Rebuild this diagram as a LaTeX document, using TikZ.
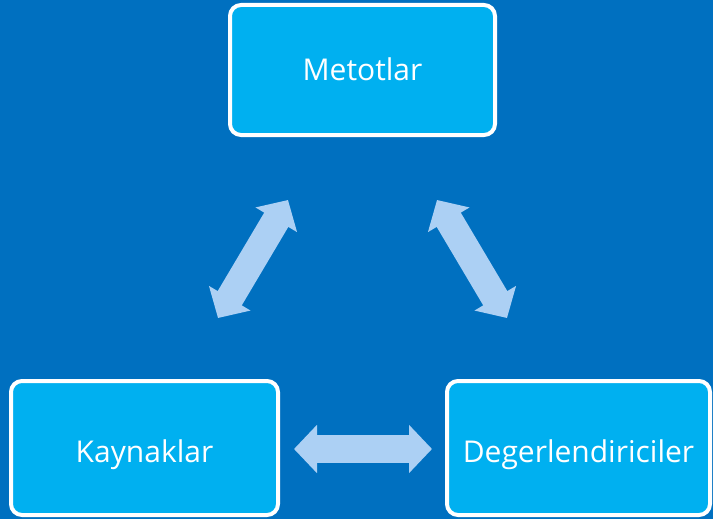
\documentclass[tikz,border=0pt]{standalone}
\usepackage{fontspec}
\setmainfont{Open Sans}
\usetikzlibrary{arrows.meta}
\definecolor{bgblue}{RGB}{0,112,192}
\definecolor{boxblue}{RGB}{0,176,240}
\definecolor{arrblue}{RGB}{172,208,244}
\tikzset{
  box/.style={draw=white, line width=4pt, fill=boxblue, rounded corners=11pt,
    text=white, font=\fontsize{30}{34}\selectfont, inner sep=0pt, align=center,
    text height=21.4pt, text depth=0pt},
  lowbox/.style={box, text height=29.4pt},
  dblarrow/.style={draw=arrblue, line width=28pt,
    {Triangle[length=23pt,width=47pt]}-{Triangle[length=23pt,width=47pt]}}
}
\begin{document}
\begin{tikzpicture}[x=1pt,y=-1pt]
\useasboundingbox (0,0) rectangle (713,519);
\fill[bgblue] (0,0) rectangle (713,519);
\node[box, minimum width=265pt, minimum height=130pt] (met) at (362.5,70) {Metotlar};
\node[lowbox, minimum width=267pt, minimum height=134pt] (kay) at (144.5,448) {Kaynaklar};
\node[lowbox, minimum width=263pt, minimum height=134pt] (deg) at (578.5,448) {Degerlendiriciler};
\coordinate (l1) at (218,318);
\coordinate (l2) at (288,200);
\coordinate (r1) at (437,200);
\coordinate (r2) at (507,318);
\coordinate (h1) at (294,449);
\coordinate (h2) at (432,449);
\draw[dblarrow] (l1) -- (l2);
\draw[dblarrow] (r1) -- (r2);
\draw[dblarrow] (h1) -- (h2);
\end{tikzpicture}
\end{document}
